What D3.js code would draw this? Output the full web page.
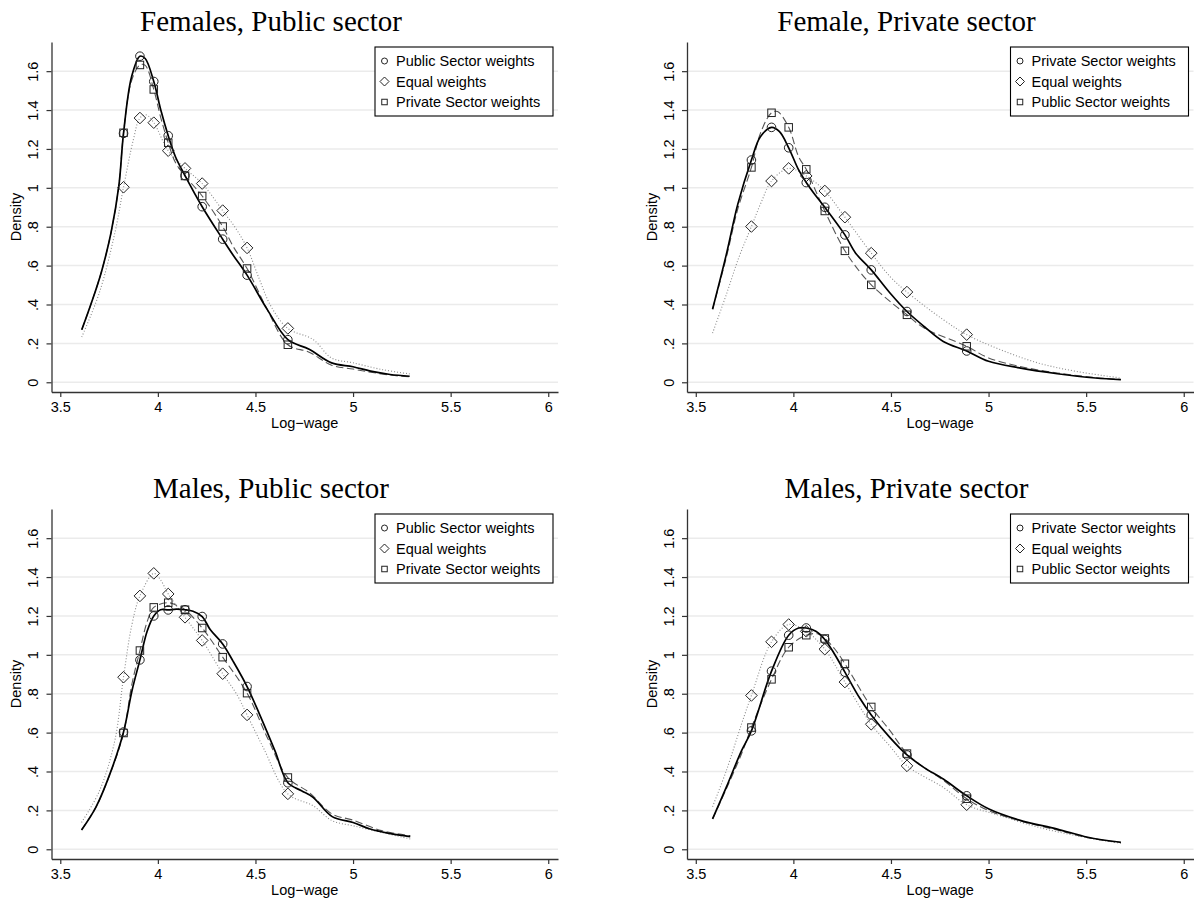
<!DOCTYPE html>
<html><head><meta charset="utf-8">
<script src="https://cdn.jsdelivr.net/npm/d3@7"></script>
<style>body{margin:0;background:#fff} svg{display:block}</style>
</head><body><svg id="chart" width="1200" height="903"></svg>
<script>
// ---- labels and ticks ----
const panelTitles = ["Females, Public sector", "Female, Private sector", "Males, Public sector", "Males, Private sector"];
const legendPublicFirst = ["Public Sector weights", "Equal weights", "Private Sector weights"];
const legendPrivateFirst = ["Private Sector weights", "Equal weights", "Public Sector weights"];
const xTickValues = [3.5, 4, 4.5, 5, 5.5, 6];
const xTickLabels = ["3.5", "4", "4.5", "5", "5.5", "6"];
const yTickValues = [0, 0.2, 0.4, 0.6, 0.8, 1, 1.2, 1.4, 1.6];
const yTickLabels = ["0", ".2", ".4", ".6", ".8", "1", "1.2", "1.4", "1.6"];

// decile log-wages where the markers sit
const publicDecileX = [3.824, 3.908, 3.979, 4.053, 4.139, 4.227, 4.332, 4.457, 4.666];
const privateDecileX = [3.785, 3.888, 3.976, 4.066, 4.161, 4.264, 4.399, 4.582, 4.888];

// ---- Females, public sector ----
const fPubOwnMarks = [1.28, 1.677, 1.547, 1.268, 1.063, 0.903, 0.736, 0.551, 0.219];
const fPubEqualMarks = [1.003, 1.359, 1.335, 1.191, 1.100, 1.022, 0.883, 0.691, 0.277];
const fPubOtherMarks = [1.283, 1.632, 1.506, 1.232, 1.061, 0.958, 0.801, 0.585, 0.193];
const fPubOwnCurve = [[3.61,0.27],[3.66,0.41],[3.71,0.565],[3.76,0.77],[3.80,1.01],[3.865,1.57],[3.935,1.665],[4.015,1.40],[4.09,1.16],[4.385,0.655],[4.56,0.375],[4.775,0.17],[4.89,0.10],[5.0,0.08],[5.09,0.057],[5.19,0.04],[5.29,0.031]];
const fPubEqualCurve = [[3.61,0.233],[3.70,0.46],[3.78,0.77],[3.875,1.25],[3.94,1.375],[4.40,0.79],[4.52,0.53],[4.58,0.39],[4.795,0.22],[4.89,0.125],[5.0,0.10],[5.15,0.065],[5.29,0.043]];
const fPubOtherCurve = [[3.61,0.27],[3.66,0.41],[3.71,0.565],[3.76,0.77],[3.80,1.01],[3.865,1.55],[3.935,1.63],[4.015,1.36],[4.09,1.13],[4.385,0.70],[4.56,0.375],[4.775,0.155],[4.89,0.088],[5.0,0.068],[5.1,0.05],[5.2,0.036],[5.29,0.028]];

// ---- Females, private sector ----
const fPrvOwnMarks = [1.143, 1.311, 1.206, 1.027, 0.900, 0.758, 0.578, 0.364, 0.161];
const fPrvEqualMarks = [0.801, 1.035, 1.100, 1.061, 0.984, 0.849, 0.664, 0.464, 0.245];
const fPrvOtherMarks = [1.105, 1.386, 1.311, 1.095, 0.881, 0.676, 0.501, 0.347, 0.185];
const fPrvOwnCurve = [[3.586,0.376],[3.656,0.655],[3.715,0.915],[3.831,1.263],[3.929,1.289],[4.027,1.092],[4.105,0.972],[4.319,0.664],[4.495,0.459],[4.67,0.287],[4.768,0.21],[5.0,0.108],[5.158,0.074],[5.352,0.044],[5.548,0.022],[5.678,0.014]];
const fPrvEqualCurve = [[3.586,0.253],[3.656,0.45],[3.72,0.64],[3.835,0.925],[4.495,0.544],[4.768,0.322],[5.06,0.168],[5.255,0.099],[5.45,0.056],[5.678,0.022]];
const fPrvOtherCurve = [[3.586,0.376],[3.656,0.64],[3.715,0.89],[3.831,1.28],[3.919,1.392],[4.027,1.16],[4.105,1.006],[4.339,0.57],[4.495,0.416],[4.67,0.279],[5.0,0.125],[5.158,0.082],[5.352,0.048],[5.548,0.024],[5.678,0.014]];

// ---- Males, public sector ----
const mPubOwnMarks = [0.603, 0.974, 1.200, 1.231, 1.232, 1.197, 1.056, 0.837, 0.342];
const mPubEqualMarks = [0.885, 1.303, 1.419, 1.313, 1.193, 1.074, 0.903, 0.691, 0.285];
const mPubOtherMarks = [0.598, 1.022, 1.244, 1.268, 1.232, 1.138, 0.988, 0.803, 0.369];
const mPubOwnCurve = [[3.609,0.099],[3.682,0.215],[3.76,0.403],[3.867,0.814],[3.945,1.121],[4.014,1.232],[4.095,1.235],[4.18,1.224],[4.268,1.13],[4.385,0.968],[4.521,0.694],[4.6,0.506],[4.736,0.301],[4.795,0.267],[4.893,0.168],[5.0,0.138],[5.088,0.104],[5.186,0.082],[5.293,0.065]];
const mPubEqualCurve = [[3.609,0.138],[3.701,0.301],[3.779,0.557],[3.867,1.156],[4.014,1.385],[4.404,0.797],[4.54,0.523],[4.795,0.224],[4.893,0.147],[5.0,0.121],[5.146,0.087],[5.293,0.053]];
const mPubOtherCurve = [[3.609,0.10],[3.682,0.215],[3.76,0.40],[3.867,0.85],[3.945,1.17],[4.095,1.255],[4.561,0.574],[4.775,0.292],[4.893,0.181],[5.0,0.150],[5.146,0.096],[5.293,0.070]];

// ---- Males, private sector ----
const mPrvOwnMarks = [0.609, 0.916, 1.101, 1.138, 1.079, 0.911, 0.691, 0.485, 0.275];
const mPrvEqualMarks = [0.791, 1.067, 1.156, 1.121, 1.029, 0.860, 0.643, 0.429, 0.229];
const mPrvOtherMarks = [0.626, 0.874, 1.039, 1.101, 1.084, 0.954, 0.732, 0.492, 0.260];
const mPrvOwnCurve = [[3.586,0.156],[3.656,0.318],[3.734,0.506],[4.027,1.138],[4.115,1.121],[4.212,1.002],[4.339,0.779],[4.495,0.574],[4.67,0.42],[4.768,0.361],[5.002,0.207],[5.158,0.150],[5.352,0.104],[5.508,0.062],[5.678,0.036]];
const mPrvEqualCurve = [[3.586,0.219],[3.656,0.403],[3.734,0.643],[4.495,0.53],[4.768,0.318],[5.06,0.173],[5.255,0.113],[5.45,0.070],[5.678,0.031]];
const mPrvOtherCurve = [[3.586,0.156],[3.656,0.31],[3.734,0.49],[4.124,1.108],[4.212,1.03],[4.495,0.61],[4.67,0.42],[4.768,0.355],[5.002,0.198],[5.158,0.147],[5.352,0.099],[5.508,0.06],[5.678,0.034]];

// ---- assemble panels ----
const panels = [
  { title: panelTitles[0], legend: legendPublicFirst, mx: publicDecileX, col: 0, row: 0,
    own: [fPubOwnCurve, fPubOwnMarks], equal: [fPubEqualCurve, fPubEqualMarks], other: [fPubOtherCurve, fPubOtherMarks] },
  { title: panelTitles[1], legend: legendPrivateFirst, mx: privateDecileX, col: 1, row: 0,
    own: [fPrvOwnCurve, fPrvOwnMarks], equal: [fPrvEqualCurve, fPrvEqualMarks], other: [fPrvOtherCurve, fPrvOtherMarks] },
  { title: panelTitles[2], legend: legendPublicFirst, mx: publicDecileX, col: 0, row: 1,
    own: [mPubOwnCurve, mPubOwnMarks], equal: [mPubEqualCurve, mPubEqualMarks], other: [mPubOtherCurve, mPubOtherMarks] },
  { title: panelTitles[3], legend: legendPrivateFirst, mx: privateDecileX, col: 1, row: 1,
    own: [mPrvOwnCurve, mPrvOwnMarks], equal: [mPrvEqualCurve, mPrvEqualMarks], other: [mPrvOtherCurve, mPrvOtherMarks] }
];

const SANS = "'Liberation Sans', Arial, Helvetica, sans-serif";
const SERIF = "'Liberation Serif', 'Times New Roman', serif";
const colOffset = [0, 635.5], rowOffset = [0, 467];
const plotL = 51.5, plotR = 558, plotT = 42, plotB = 392;

const x = d3.scaleLinear().domain([3.455, 6.05]).range([plotL, plotR]);
const y = d3.scaleLinear().domain([-0.05, 1.75]).range([plotB, plotT]);

const lineGen = d3.line().x(d => x(d[0])).y(d => y(d[1])).curve(d3.curveCatmullRom.alpha(0.5));

const styles = {
  own:   { stroke: "#000", width: 1.7, dash: null },
  equal: { stroke: "#8a8a8a", width: 1.1, dash: "1 2" },
  other: { stroke: "#555", width: 1.1, dash: "7.5 3.5" }
};

function drawMarker(g, kind, cx, cy, s) {
  let el;
  if (kind === "own") {
    el = g.append("circle").attr("cx", cx).attr("cy", cy).attr("r", s.r);
  } else if (kind === "equal") {
    const h = s.d;
    el = g.append("path").attr("d", `M${cx},${cy - h}L${cx + h},${cy}L${cx},${cy + h}L${cx - h},${cy}Z`);
  } else {
    const h = s.q / 2;
    el = g.append("rect").attr("x", cx - h).attr("y", cy - h).attr("width", 2 * h).attr("height", 2 * h);
  }
  el.attr("fill", "none").attr("stroke", "#222").attr("stroke-width", 1);
}

const svg = d3.select("#chart");
svg.append("rect").attr("width", 1200).attr("height", 903).attr("fill", "#fff");

panels.forEach(p => {
  const g = svg.append("g").attr("transform", `translate(${colOffset[p.col]},${rowOffset[p.row]})`);

  // grid
  g.append("g").selectAll("line").data(yTickValues).join("line")
    .attr("x1", plotL).attr("x2", plotR)
    .attr("y1", d => y(d)).attr("y2", d => y(d))
    .attr("stroke", "#ebebeb").attr("stroke-width", 1.5);

  // axes
  const xa = g.append("g").attr("transform", `translate(0,${plotB})`)
    .call(d3.axisBottom(x).tickValues(xTickValues).tickFormat((d, i) => xTickLabels[i])
      .tickSize(5).tickSizeOuter(0).tickPadding(4.5));
  const ya = g.append("g").attr("transform", `translate(${plotL},0)`)
    .call(d3.axisLeft(y).tickValues(yTickValues).tickFormat((d, i) => yTickLabels[i])
      .tickSize(5).tickSizeOuter(0));
  [xa, ya].forEach(a => {
    a.select(".domain").attr("stroke", "#333").attr("stroke-width", 1.3);
    a.selectAll(".tick line").attr("stroke", "#333").attr("stroke-width", 1.2);
    a.selectAll("text").attr("font-family", SANS).attr("font-size", 14.5).attr("fill", "#000");
  });
  ya.selectAll(".tick text")
    .attr("x", 0).attr("y", -13.5).attr("dy", 0)
    .attr("text-anchor", "middle").attr("transform", "rotate(-90)");

  // axis titles
  g.append("text").attr("x", (plotL + plotR) / 2).attr("y", 427.5)
    .attr("text-anchor", "middle").attr("font-family", SANS).attr("font-size", 14.5)
    .text("Log\u2212wage");
  g.append("text").attr("transform", `translate(21,${(plotT + plotB) / 2}) rotate(-90)`)
    .attr("text-anchor", "middle").attr("font-family", SANS).attr("font-size", 14.5)
    .text("Density");

  // title
  g.append("text").attr("x", 271).attr("y", 31)
    .attr("text-anchor", "middle").attr("font-family", SERIF).attr("font-size", 29)
    .text(p.title);

  // density curves (knots plus decile points)
  ["equal", "other", "own"].forEach(k => {
    const [curve, marks] = p[k];
    const pts = curve.concat(p.mx.map((mx, i) => [mx, marks[i]])).sort((a, b) => a[0] - b[0]);
    const st = styles[k];
    g.append("path").attr("d", lineGen(pts)).attr("fill", "none")
      .attr("stroke", st.stroke).attr("stroke-width", st.width)
      .attr("stroke-dasharray", st.dash);
  });

  // markers at deciles
  ["own", "equal", "other"].forEach(k => {
    const marks = p[k][1];
    p.mx.forEach((mx, i) => drawMarker(g, k, x(mx), y(marks[i]), { r: 4.3, d: 5.8, q: 7.5 }));
  });

  // legend
  const lg = g.append("g");
  lg.append("rect").attr("x", 375).attr("y", 47).attr("width", 178).attr("height", 69)
    .attr("fill", "#fff").attr("stroke", "#000").attr("stroke-width", 1.1);
  ["own", "equal", "other"].forEach((k, i) => {
    const cy = 61 + i * 20.5;
    drawMarker(lg, k, 384.5, cy, { r: 3, d: 4.5, q: 5.5 });
    lg.append("text").attr("x", 396).attr("y", cy + 5)
      .attr("font-family", SANS).attr("font-size", 14.5).text(p.legend[i]);
  });
});
</script>
</body></html>
